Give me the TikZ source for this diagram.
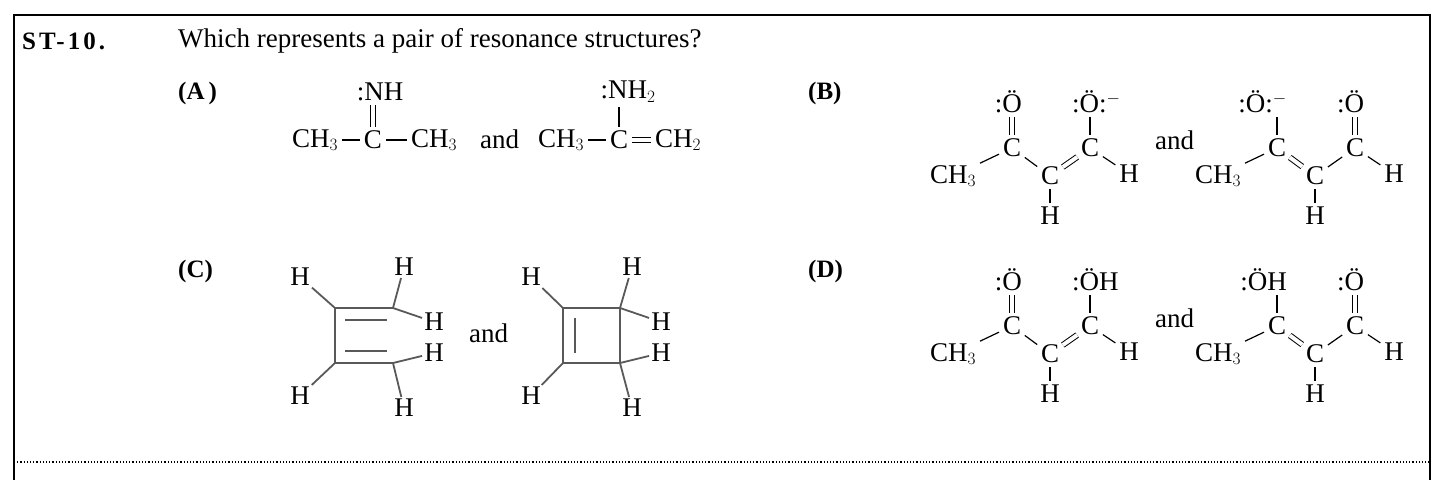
\documentclass[tikz,border=0pt]{standalone}
\usepackage{fontspec}
\setmainfont{Liberation Serif}
\begin{document}
\begin{tikzpicture}[x=1pt,y=-1pt,
  atom/.style={inner sep=2pt,font=\fontsize{27}{30}\selectfont},
  lbl/.style={inner sep=0pt,anchor=west,font=\fontsize{27}{30}\selectfont},
  tag/.style={lbl,font=\fontsize{25}{30}\selectfont\bfseries},
  bond/.style={line width=1.2pt,shorten <=2pt,shorten >=2pt},
  dbond/.style={bond,double,double distance=4pt,line width=1pt},
  ring/.style={line width=1.8pt,gray!70!black}]
  \useasboundingbox (0,0) rectangle (1440,480);
  % frame
  \draw[line width=1.4pt] (14,480) -- (14,15) -- (1430,15) -- (1430,480);
  \draw[line width=1.2pt,dotted] (14,462) -- (1430,462);
  \node[tag] (num) at (22,41) {\addfontfeature{LetterSpace=12}ST-10.};
  \node[lbl] (qq) at (178,41) {Which represents a pair of resonance structures?};
  \node[tag] (la) at (178,93) {(A\,)};
  \node[tag] (lb) at (808,93) {(B)};
  \node[tag] (lc) at (178,271) {(C)};
  \node[tag] (ld) at (808,271) {(D)};
%%% (A)
  \node[atom] (a1m) at (315,140) {CH$_3$};
  \node[atom] (a1c) at (373,140) {C};
  \node[atom] (a1r) at (434,140) {CH$_3$};
  \node[atom] (a1n) at (380,92) {:NH};
  \draw[bond] (a1m) -- (a1c);
  \draw[bond] (a1c) -- (a1r);
  \draw[dbond] (a1c) -- (a1c|-a1n.south);
  \node[lbl] (and1) at (480,139) {and};
  \node[atom] (a2m) at (561,140) {CH$_3$};
  \node[atom] (a2c) at (619,140) {C};
  \node[atom] (a2r) at (678,140) {CH$_2$};
  \node[atom] (a2n) at (628,92) {:NH$_2$};
  \draw[bond] (a2m) -- (a2c);
  \draw[dbond] (a2c) -- (a2r);
  \draw[bond] (a2c) -- (a2c|-a2n.south);
%%% (B) and (D)
  \foreach \m/\dx/\dy/\otl/\otr in {b1/0/0/{:Ö}/{:Ö:$^{-}$},b2/265/0/{:Ö:$^{-}$}/{:Ö},
                                  d1/0/178/{:Ö}/{:ÖH},d2/265/178/{:ÖH}/{:Ö}}{
    \node[atom] (\m m) at (953+\dx,176+\dy) {CH$_3$};
    \node[atom] (\m a) at (1012+\dx,148+\dy) {C};
    \node[atom] (\m b) at (1050+\dx,176+\dy) {C};
    \node[atom] (\m c) at (1090+\dx,148+\dy) {C};
    \node[atom] (\m h) at (1129+\dx,174+\dy) {H};
    \node[atom] (\m k) at (1050+\dx,216+\dy) {H};
    \node[atom,anchor=east] (\m o) at (1024+\dx,102+\dy) {\otl};
    \node[atom,anchor=west] (\m p) at (1070+\dx,102+\dy) {\otr};
    \draw[bond] (\m m) -- (\m a);
    \draw[bond] (\m c) -- (\m h);
    \draw[bond] (\m b) -- (\m k);
  }
  \draw[bond] (b1a) -- (b1b); \draw[dbond] (b1b) -- (b1c);
  \draw[dbond] (b1a) -- (b1a|-b1o.south); \draw[bond] (b1c) -- (b1c|-b1p.south);
  \draw[dbond] (b2a) -- (b2b); \draw[bond] (b2b) -- (b2c);
  \draw[bond] (b2a) -- (b2a|-b2o.south); \draw[dbond] (b2c) -- (b2c|-b2p.south);
  \draw[bond] (d1a) -- (d1b); \draw[dbond] (d1b) -- (d1c);
  \draw[dbond] (d1a) -- (d1a|-d1o.south); \draw[bond] (d1c) -- (d1c|-d1p.south);
  \draw[dbond] (d2a) -- (d2b); \draw[bond] (d2b) -- (d2c);
  \draw[bond] (d2a) -- (d2a|-d2o.south); \draw[dbond] (d2c) -- (d2c|-d2p.south);
  \node[lbl] (and2) at (1155,140) {and};
  \node[lbl] (and4) at (1155,318) {and};
%%% (C)
  \coordinate (c1) at (335,308); \coordinate (c2) at (335,363);
  \coordinate (c3) at (393,308); \coordinate (c4) at (393,363);
  \node[atom] (h1) at (300,277) {H};  \node[atom] (h2) at (300,396) {H};
  \node[atom] (h3) at (404,267) {H};  \node[atom] (h4) at (434,322) {H};
  \node[atom] (h5) at (434,353) {H};  \node[atom] (h6) at (404,408) {H};
  \draw[ring] (c3) -- (c1) -- (c2) -- (c4);
  \draw[ring] (345,320) -- (387,320) (345,351) -- (387,351);
  \draw[ring] (c1) -- (h1); \draw[ring] (c2) -- (h2);
  \draw[ring] (c3) -- (h3); \draw[ring] (c3) -- (h4);
  \draw[ring] (c4) -- (h5); \draw[ring] (c4) -- (h6);
  \node[lbl] (and3) at (469,333) {and};
  \coordinate (s1) at (563,308); \coordinate (s2) at (563,363);
  \coordinate (s3) at (620,308); \coordinate (s4) at (620,363);
  \node[atom] (g1) at (531,277) {H};  \node[atom] (g2) at (531,396) {H};
  \node[atom] (g3) at (632,267) {H};  \node[atom] (g4) at (661,322) {H};
  \node[atom] (g5) at (661,353) {H};  \node[atom] (g6) at (632,408) {H};
  \draw[ring] (s1) -- (s3) -- (s4) -- (s2) -- cycle;
  \draw[ring] (575,318) -- (575,353);
  \draw[ring] (s1) -- (g1); \draw[ring] (s2) -- (g2);
  \draw[ring] (s3) -- (g3); \draw[ring] (s3) -- (g4);
  \draw[ring] (s4) -- (g5); \draw[ring] (s4) -- (g6);
\end{tikzpicture}
\end{document}
